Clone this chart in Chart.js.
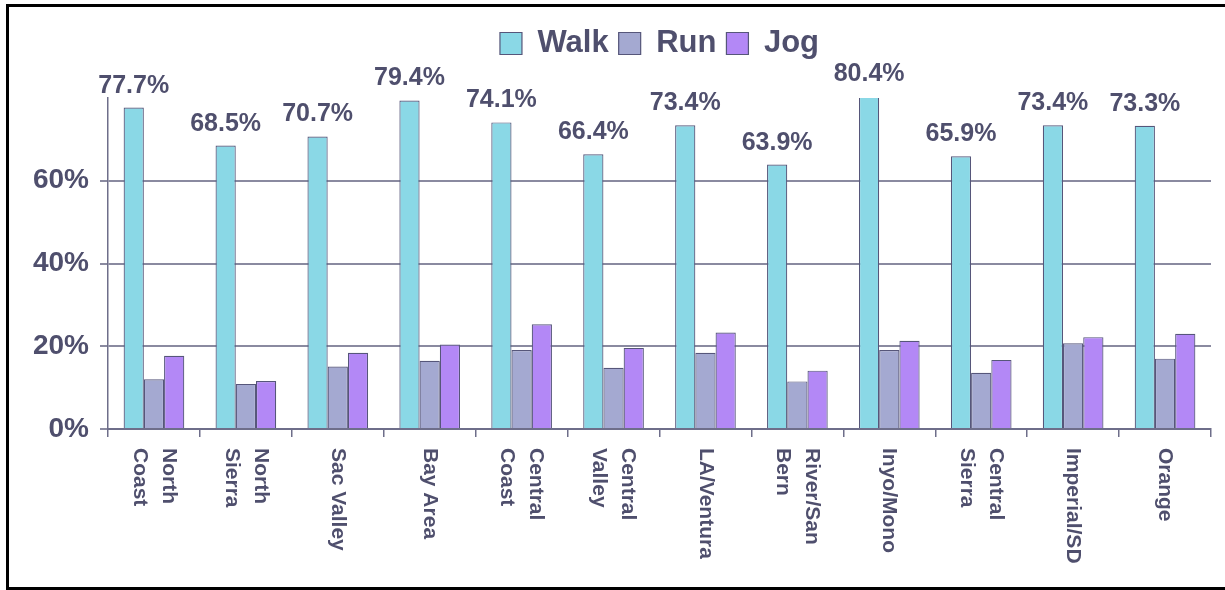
<!DOCTYPE html>
<html>
<head>
<meta charset="utf-8">
<script src="https://cdn.jsdelivr.net/npm/chart.js@4"></script>
<style>
  html, body { margin: 0; padding: 0; background: #fff; overflow: hidden; }
  #wrap { position: relative; width: 1225px; height: 590px; overflow: hidden; }
  #frame {
    position: absolute; left: 6px; top: 4px; width: 1219px; height: 586px;
    box-sizing: border-box; border: 3px solid #000; border-right: none;
  }
  #myChart { position: absolute; left: 0; top: 0; }
</style>
</head>
<body>
<div id="wrap">
  <div id="frame"></div>
  <canvas id="myChart" width="1225" height="590"></canvas>
</div>
<script>
// regions (multi-line labels as arrays)
const regions = [
  ['North', 'Coast'], ['North', 'Sierra'], ['Sac Valley'], ['Bay Area'],
  ['Central', 'Coast'], ['Central', 'Valley'], ['LA/Ventura'], ['River/San', 'Bern'],
  ['Inyo/Mono'], ['Central', 'Sierra'], ['Imperial/SD'], ['Orange']
];
const walk = [77.7, 68.5, 70.7, 79.4, 74.1, 66.4, 73.4, 63.9, 80.4, 65.9, 73.4, 73.3];
const run  = [12.0, 10.9, 15.1, 16.5, 19.1, 14.8, 18.4, 11.5, 19.1, 13.6, 20.7, 17.0];
const jog  = [17.7, 11.6, 18.4, 20.4, 25.3, 19.6, 23.3, 14.1, 21.3, 16.7, 22.2, 23.0];
const yTicks = [0, 20, 40, 60, 80];

const FONT = '"Liberation Sans", Arial, sans-serif';
const TEXT = '#4f4f6d';
const GRID = '#8a8aa0';
const AXIS = '#6e6e8a';
const EDGE = '#56567a';

// value labels above the Walk bars
const walkLabels = {
  id: 'walkLabels',
  afterDatasetsDraw(chart) {
    const ctx = chart.ctx;
    const meta = chart.getDatasetMeta(0);
    ctx.save();
    ctx.font = 'bold 25px ' + FONT;
    ctx.fillStyle = TEXT;
    ctx.textAlign = 'center';
    ctx.textBaseline = 'alphabetic';
    meta.data.forEach((bar, i) => {
      ctx.fillText(walk[i].toFixed(1) + '%', bar.x, bar.y - 15);
    });
    ctx.restore();
  }
};

// category labels turned clockwise, reading top to bottom
const xLabels = {
  id: 'xLabels',
  afterDraw(chart) {
    const ctx = chart.ctx;
    const xs = chart.scales.x;
    const lh = 29;
    ctx.save();
    ctx.font = 'bold 21px ' + FONT;
    ctx.fillStyle = TEXT;
    ctx.textAlign = 'left';
    ctx.textBaseline = 'middle';
    regions.forEach((lines, i) => {
      const x = xs.getPixelForValue(i);
      ctx.save();
      ctx.translate(x, xs.top + 19);
      ctx.rotate(Math.PI / 2);
      lines.forEach((t, j) => {
        ctx.fillText(t, 0, (j - (lines.length - 1) / 2) * lh);
      });
      ctx.restore();
    });
    ctx.restore();
  }
};

const data = {
  labels: regions.map(r => r.join(' ')),
  datasets: [
    { label: 'Walk', data: walk, backgroundColor: '#8ad8e6', borderColor: EDGE, borderWidth: 1.2, clip: 0 },
    { label: 'Run',  data: run,  backgroundColor: '#a4a9d1', borderColor: EDGE, borderWidth: 1.2, clip: 0 },
    { label: 'Jog',  data: jog,  backgroundColor: '#b388f6', borderColor: EDGE, borderWidth: 1.2, clip: 0 }
  ]
};

const config = {
  type: 'bar',
  data: data,
  options: {
    responsive: false,
    animation: false,
    devicePixelRatio: 1,
    layout: { padding: { top: 18, right: 14, left: 0, bottom: 0 } },
    datasets: { bar: { categoryPercentage: 0.66, barPercentage: 1.0 } },
    plugins: {
      legend: {
        position: 'top',
        fullSize: false,
        labels: {
          boxWidth: 22,
          boxHeight: 22,
          padding: 10,
          color: TEXT,
          font: { family: FONT, size: 31, weight: 'bold' }
        }
      },
      // empty spacer between legend and plot
      title: {
        display: true,
        text: ' ',
        weight: 500,
        padding: { top: 0, bottom: 5 },
        font: { size: 20 }
      },
      tooltip: { enabled: false }
    },
    scales: {
      x: {
        grid: { display: true, drawOnChartArea: false, drawTicks: true, tickLength: 8, color: AXIS, lineWidth: 1.5 },
        border: { color: AXIS, width: 2 },
        ticks: { display: false },
        afterFit(scale) { scale.height = 161; }
      },
      y: {
        min: 0,
        max: 80,
        afterBuildTicks(scale) { scale.ticks = yTicks.map(v => ({ value: v })); },
        grid: {
          color: (c) => c.tick && c.tick.value === 80 ? 'rgba(0,0,0,0)' : GRID,
          lineWidth: 2,
          tickLength: 8
        },
        border: { color: AXIS, width: 1.5 },
        ticks: {
          padding: 11,
          color: TEXT,
          font: { family: FONT, size: 28, weight: 'bold' },
          callback: (v) => v === 80 ? '' : v + '%'
        },
        afterFit(scale) { scale.width = 108; }
      }
    }
  },
  plugins: [walkLabels, xLabels]
};

var chart = new Chart(document.getElementById('myChart'), config);
</script>
</body>
</html>
